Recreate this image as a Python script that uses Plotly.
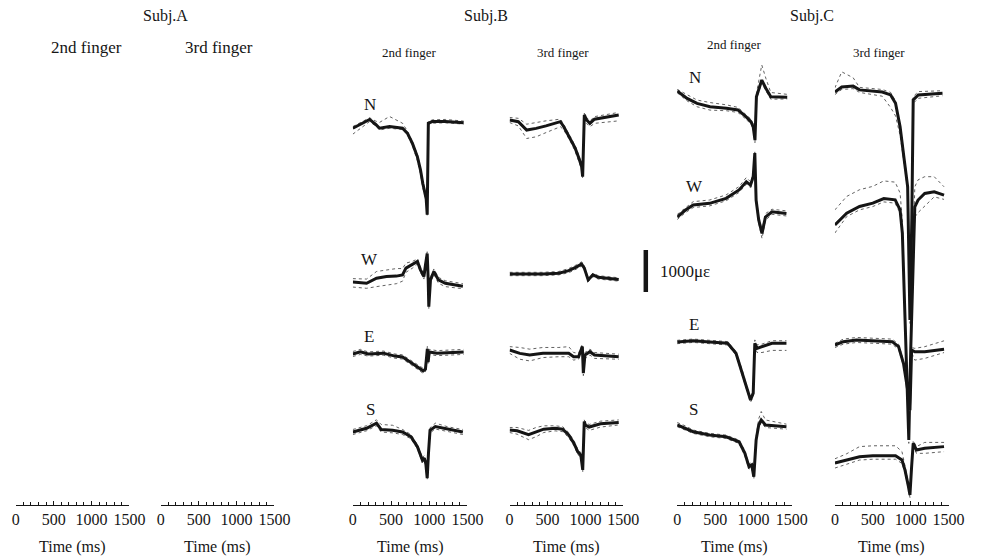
import plotly.graph_objects as go

# ---------------- data (microstrain, relative to each channel's start level) ----------------
# Subj.B 2nd finger
B2_N_T = [0, 100, 220, 300, 350, 480, 650, 715, 780, 845, 885, 915, 945, 960, 973, 979, 988, 1040, 1210, 1450]
B2_N_Y = [-30, 60, 180, 60, -30, 10, -30, -150, -390, -710, -1020, -1340, -1580, -1710, -2090, -1400, 90, 130, 130, 100]
B2_N_HI = [40, 50, 40, 80, 140, 240, 120, 50, 40, 60, 60, 60, 60, 60, 30, 40, 40, 40, 50, 40]
B2_N_LO = [140, 100, 50, 40, 40, 40, 30, 40, 60, 90, 100, 100, 80, 60, 40, 60, 30, 40, 30, 30]

B2_W_T = [0, 180, 310, 440, 570, 650, 695, 780, 845, 885, 930, 950, 973, 986, 994, 1016, 1060, 1120, 1210, 1440]
B2_W_Y = [0, -30, 90, 130, 140, 170, 330, 410, 490, 290, 130, 400, 680, 50, -590, 50, 250, 50, -30, -100]
B2_W_HI = [80, 100, 160, 160, 180, 150, 120, 80, 60, 60, 60, 60, 40, 40, 40, 60, 60, 60, 60, 60]
B2_W_LO = [120, 120, 200, 200, 180, 150, 100, 80, 60, 60, 60, 60, 40, 40, 40, 60, 60, 80, 80, 60]

B2_E_T = [0, 100, 200, 400, 550, 650, 750, 850, 920, 950, 965, 975, 985, 1000, 1100, 1450]
B2_E_Y = [0, 50, 0, 20, -50, -70, -190, -310, -400, -360, -140, 120, -190, 50, 20, 50]
B2_E_HI = [60, 60, 50, 50, 50, 50, 50, 50, 60, 60, 60, 60, 60, 60, 60, 60]
B2_E_LO = [60, 60, 50, 50, 50, 50, 50, 50, 60, 60, 60, 60, 60, 60, 60, 60]

B2_S_T = [0, 180, 310, 370, 520, 650, 760, 845, 910, 935, 955, 973, 990, 1010, 1080, 1250, 1440]
B2_S_Y = [0, 90, 210, 60, 40, 0, -110, -350, -670, -620, -750, -1100, -500, 40, 130, 60, 0]
B2_S_HI = [60, 60, 80, 120, 120, 60, 50, 50, 60, 60, 60, 40, 40, 60, 80, 60, 60]
B2_S_LO = [60, 60, 60, 60, 60, 60, 50, 50, 60, 60, 60, 40, 40, 60, 60, 60, 60]

# Subj.B 3rd finger
B3_N_T = [0, 115, 225, 350, 480, 670, 715, 800, 865, 915, 950, 964, 986, 1016, 1060, 1120, 1250, 1440]
B3_N_Y = [0, -40, -240, -200, -140, -40, -160, -440, -670, -910, -1110, -1350, 120, 0, -80, 20, 60, 120]
B3_N_HI = [60, 80, 140, 140, 120, 60, 50, 50, 60, 60, 60, 40, 40, 60, 60, 60, 60, 60]
B3_N_LO = [60, 100, 200, 200, 160, 120, 80, 60, 80, 80, 60, 40, 40, 80, 80, 100, 120, 140]

B3_W_T = [0, 225, 440, 650, 780, 885, 950, 986, 1037, 1100, 1170, 1440]
B3_W_Y = [0, 0, 0, 20, 80, 170, 240, 140, -140, -20, -80, -130]
B3_W_HI = [40, 40, 40, 40, 50, 50, 50, 50, 40, 40, 40, 40]
B3_W_LO = [40, 40, 40, 40, 50, 50, 50, 50, 40, 40, 40, 40]

B3_E_T = [0, 135, 265, 440, 650, 780, 845, 910, 960, 973, 994, 1060, 1120, 1440]
B3_E_Y = [0, -80, -120, -80, -80, -80, -160, -160, 80, -550, -120, -40, -120, -160]
B3_E_HI = [80, 140, 140, 140, 140, 160, 100, 80, 60, 60, 60, 60, 60, 60]
B3_E_LO = [80, 140, 140, 100, 80, 80, 80, 60, 60, 60, 80, 80, 80, 60]

B3_S_T = [0, 100, 250, 350, 450, 600, 700, 780, 850, 900, 940, 965, 985, 1000, 1050, 1200, 1440]
B3_S_Y = [0, -20, -110, -40, 20, 40, 20, -120, -320, -520, -600, -950, 200, 120, 70, 150, 180]
B3_S_HI = [60, 80, 100, 100, 80, 60, 60, 60, 60, 60, 60, 40, 40, 60, 60, 60, 60]
B3_S_LO = [60, 80, 120, 120, 80, 60, 60, 60, 60, 60, 60, 40, 40, 60, 80, 80, 60]

# Subj.C 2nd finger
C2_N_T = [0, 130, 260, 430, 645, 795, 900, 965, 995, 1018, 1037, 1073, 1107, 1160, 1225, 1440]
C2_N_Y = [0, -175, -295, -375, -410, -450, -610, -730, -850, -1170, -140, 100, 260, 65, -135, -150]
C2_N_HI = [40, 80, 80, 100, 80, 60, 60, 60, 60, 60, 80, 200, 360, 240, 100, 70]
C2_N_LO = [40, 60, 80, 80, 60, 60, 60, 60, 60, 60, 60, 60, 60, 60, 60, 40]

C2_W_T = [0, 105, 210, 425, 640, 810, 905, 960, 995, 1016, 1033, 1067, 1110, 1155, 1240, 1430]
C2_W_Y = [0, 160, 285, 325, 445, 645, 840, 760, 960, 1520, 400, -70, -390, 0, 125, 85]
C2_W_HI = [60, 60, 80, 80, 80, 80, 100, 80, 60, 60, 60, 80, 80, 80, 60, 60]
C2_W_LO = [60, 60, 60, 60, 60, 60, 60, 60, 60, 60, 60, 80, 120, 80, 60, 60]

C2_E_T = [0, 210, 425, 660, 770, 855, 915, 960, 995, 1016, 1046, 1110, 1240, 1430]
C2_E_Y = [0, 30, 0, -30, -270, -750, -1140, -1380, -1220, -30, -150, -110, -30, -30]
C2_E_HI = [40, 40, 40, 40, 40, 60, 60, 60, 60, 80, 80, 60, 60, 60]
C2_E_LO = [40, 40, 40, 40, 40, 60, 60, 60, 60, 80, 100, 140, 170, 170]

C2_S_T = [0, 105, 210, 425, 640, 810, 885, 940, 975, 1003, 1033, 1067, 1100, 1155, 1430]
C2_S_Y = [0, -80, -160, -240, -280, -400, -670, -990, -950, -1230, -360, 0, 120, 0, -40]
C2_S_HI = [60, 60, 40, 40, 40, 40, 60, 60, 60, 60, 80, 150, 200, 120, 60]
C2_S_LO = [40, 40, 40, 40, 40, 40, 60, 60, 60, 60, 60, 60, 60, 60, 60]

# Subj.C 3rd finger
C3_N_T = [0, 90, 240, 325, 625, 735, 800, 860, 915, 960, 990, 1015, 1033, 1100, 1420]
C3_N_Y = [0, 120, 140, 50, 0, -70, -270, -830, -1620, -2260, -5430, -3000, -190, -70, -30]
C3_N_HI = [100, 360, 200, 60, 60, 60, 60, 60, 80, 80, 80, 80, 80, 80, 60]
C3_N_LO = [60, 60, 60, 60, 100, 300, 300, 200, 100, 80, 80, 80, 80, 80, 60]

C3_W_T = [0, 155, 325, 500, 645, 795, 860, 890, 930, 975, 1000, 1030, 1054, 1097, 1185, 1310, 1440]
C3_W_Y = [0, 280, 440, 520, 630, 600, 360, -200, -2500, -5120, -3000, -800, 430, 595, 750, 790, 710]
C3_W_HI = [360, 400, 400, 400, 420, 420, 400, 300, 100, 80, 80, 300, 480, 480, 400, 360, 200]
C3_W_LO = [190, 80, 80, 80, 80, 80, 80, 80, 80, 80, 80, 80, 240, 300, 300, 120, 100]

C3_E_T = [0, 110, 285, 500, 755, 840, 905, 960, 990, 1012, 1054, 1185, 1440]
C3_E_Y = [0, 80, 120, 100, 80, -40, -440, -1070, -1550, -120, -160, -160, -100]
C3_E_HI = [40, 60, 60, 60, 60, 60, 60, 60, 60, 60, 80, 120, 200]
C3_E_LO = [60, 60, 60, 60, 60, 60, 60, 60, 60, 60, 200, 160, 80]

C3_S_T = [0, 155, 325, 500, 800, 885, 925, 970, 990, 1012, 1033, 1076, 1185, 1440]
C3_S_Y = [0, 70, 150, 170, 170, 70, -170, -560, -760, -90, 470, 310, 350, 390]
C3_S_HI = [100, 150, 240, 240, 240, 200, 100, 60, 60, 60, 60, 80, 140, 100]
C3_S_LO = [120, 100, 80, 80, 80, 80, 60, 60, 60, 60, 60, 80, 120, 120]

SUBJECTS = ["Subj.A", "Subj.B", "Subj.C"]
FINGERS = ["2nd finger", "3rd finger"]
CHANNELS = ["N", "W", "E", "S"]
X_TICKS = [0, 500, 1000, 1500]
SCALE_UE = 1000
SCALE_LABEL = "1000\u03bc\u03b5"
X_TITLE = "Time (ms)"

# ---------------- layout / positioning (pixels) ----------------
W, H = 993, 559
PLOT_BOTTOM = 505          # pixel row of the time axes
UE_PER_PX = 1000 / 42      # vertical scale of the strain traces
SERIF = "Liberation Serif, Times New Roman, serif"
INK = "#151515"

PANEL_PX = [(12, 128), (160, 276), (356, 473), (516, 632), (687, 804), (848, 964)]

BASE_PX = {
    "B2": {"N": 127, "W": 282, "E": 354, "S": 432},
    "B3": {"N": 120, "W": 274, "E": 350, "S": 430},
    "C2": {"N": 91, "W": 217, "E": 342, "S": 425},
    "C3": {"N": 92, "W": 225, "E": 345, "S": 463},
}
PANEL_INDEX = {"B2": 3, "B3": 4, "C2": 5, "C3": 6}

DATA = {}
g = globals()
for p in BASE_PX:
    for ch in CHANNELS:
        DATA[(p, ch)] = (g[f"{p}_{ch}_T"], g[f"{p}_{ch}_Y"], g[f"{p}_{ch}_HI"], g[f"{p}_{ch}_LO"])


def px_to_paper_y(py):
    return (PLOT_BOTTOM - py) / PLOT_BOTTOM


def axis_name(i):
    return "x" if i == 1 else f"x{i}"


fig = go.Figure()

# empty panels (Subj.A) still need their time axes
for i in (1, 2):
    fig.add_trace(go.Scatter(x=[], y=[], xaxis=axis_name(i), yaxis="y", mode="lines",
                             showlegend=False, hoverinfo="skip"))

for (p, ch), (t, y, hi, lo) in DATA.items():
    off = (PLOT_BOTTOM - BASE_PX[p][ch]) * UE_PER_PX
    xa = axis_name(PANEL_INDEX[p])
    for dev, sign in ((hi, 1), (lo, -1)):
        fig.add_trace(go.Scatter(
            x=t, y=[off + v + sign * d for v, d in zip(y, dev)],
            xaxis=xa, yaxis="y", mode="lines",
            line=dict(color="#3a3a3a", width=0.8, dash="dot"),
            hoverinfo="skip", showlegend=False))
    fig.add_trace(go.Scatter(
        x=t, y=[off + v for v in y],
        xaxis=xa, yaxis="y", mode="lines",
        line=dict(color=INK, width=3),
        name=f"{p} {ch}", showlegend=False))

layout = dict(
    width=W, height=H,
    margin=dict(l=0, r=0, t=0, b=H - PLOT_BOTTOM),
    paper_bgcolor="white", plot_bgcolor="white",
    showlegend=False,
    yaxis=dict(domain=[0, 1], range=[0, PLOT_BOTTOM * UE_PER_PX], visible=False, fixedrange=True),
)

for i, (x0, x1) in enumerate(PANEL_PX, start=1):
    key = "xaxis" if i == 1 else f"xaxis{i}"
    layout[key] = dict(
        domain=[x0 / W, x1 / W], range=[0, 1500], anchor="y",
        showline=True, linecolor=INK, linewidth=1,
        showgrid=False, zeroline=False,
        tickmode="array", tickvals=X_TICKS, ticktext=[str(v) for v in X_TICKS],
        ticks="inside", ticklen=4, tickwidth=1, tickcolor=INK,
        minor=dict(dtick=100, tick0=0, ticks="inside", ticklen=3, tickwidth=1, tickcolor=INK),
        tickfont=dict(family=SERIF, size=16, color=INK),
    )

fig.update_layout(**layout)

ann = []
# subject titles
for txt, cx in zip(SUBJECTS, [165, 492, 825]):
    ann.append(dict(text=txt, x=cx / W, y=px_to_paper_y(16), font=dict(family=SERIF, size=16, color=INK)))
# finger titles
finger_pos = [(84, 48, 17), (219, 48, 17), (413, 53, 13), (571, 53, 13), (745, 45, 13), (893, 53, 13)]
for k, (cx, cy, fs) in enumerate(finger_pos):
    ann.append(dict(text=FINGERS[k % 2], x=cx / W, y=px_to_paper_y(cy), font=dict(family=SERIF, size=fs, color=INK)))
# channel letters
letter_pos = {
    "B2": {"N": (374, 105), "W": (373, 259), "E": (373, 337), "S": (374, 409)},
    "C2": {"N": (705, 77), "W": (705, 186), "E": (704, 324), "S": (704, 409)},
}
for p, d in letter_pos.items():
    for ch, (cx, cy) in d.items():
        ann.append(dict(text=ch, x=cx / W, y=px_to_paper_y(cy), font=dict(family=SERIF, size=17, color=INK)))
# axis titles
for x0, x1 in PANEL_PX:
    ann.append(dict(text=X_TITLE, x=(x0 + x1) / 2 / W, y=px_to_paper_y(547), font=dict(family=SERIF, size=16, color=INK)))
# scale label
ann.append(dict(text=SCALE_LABEL, x=667 / W, y=px_to_paper_y(271), xanchor="left",
                font=dict(family=SERIF, size=17, color=INK)))

for a in ann:
    a.setdefault("xanchor", "center")
    a.update(xref="paper", yref="paper", yanchor="middle", showarrow=False)
fig.update_layout(annotations=ann)

# scale bar (1000 microstrain) drawn on the strain axis
bar_bottom = (PLOT_BOTTOM - 292) * UE_PER_PX
fig.add_shape(type="line", xref="paper", yref="y", x0=655 / W, x1=655 / W,
              y0=bar_bottom, y1=bar_bottom + SCALE_UE, line=dict(color=INK, width=4.5))

# keep the page exactly the size of the figure (no body margin / scrollbars)
PAGE_CSS_JS = (
    "document.documentElement.style.margin='0';"
    "document.documentElement.style.overflow='hidden';"
    "document.body.style.margin='0';"
    "document.body.style.overflow='hidden';"
)

fig.write_html("out.html", post_script=PAGE_CSS_JS)
